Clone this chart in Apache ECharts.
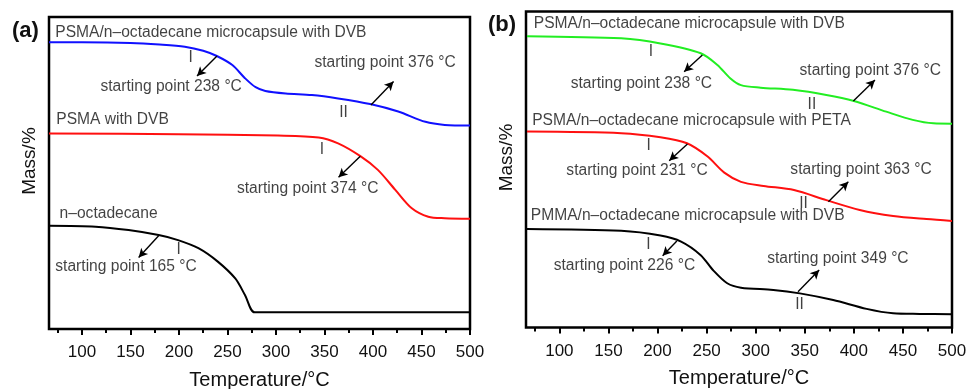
<!DOCTYPE html>
<html>
<head>
<meta charset="utf-8">
<script src="https://cdn.jsdelivr.net/npm/echarts@6/dist/echarts.min.js"></script>
<style>
  html, body { margin: 0; padding: 0; background: #fff; }
  #chart { width: 968px; height: 389px; }
</style>
</head>
<body>
<div id="chart"></div>
<script>
// x axis
const xMin = 66;
const xMax = 500;
const xTickLabels = [100, 150, 200, 250, 300, 350, 400, 450, 500];
const xMinorTicks = [75, 125, 175, 225, 275, 325, 375, 425, 475];

// panel (a) curves: [temperature, relative mass position]
const aMicroDVB = [[66, 91.9], [100, 91.9], [150, 91.7], [180, 91.2], [206, 90.5], [225, 89.2], [239, 87.5],
  [255, 84.6], [268, 80.4], [279, 77.5], [289, 76.3], [310, 75.5], [337, 75.0], [364, 73.9], [397, 72.1],
  [426, 69.7], [454, 66.4], [474, 65.4], [500, 65.2]];
const aPsmaDVB = [[66, 62.7], [199, 62.4], [302, 62.0], [344, 61.4], [364, 59.5], [387, 55.4], [405, 51.0],
  [423, 44.6], [440, 38.7], [457, 36.0], [474, 35.5], [500, 35.3]];
const aOctadecane = [[66, 33.1], [114, 32.8], [148, 31.7], [179, 30.1], [199, 28.5], [220, 25.9], [240, 21.6],
  [258, 16.2], [268, 10.9], [278, 5.35], [300, 5.35], [400, 5.35], [500, 5.35]];

// panel (b) curves
const bMicroDVB = [[67, 92.2], [163, 91.5], [203, 89.9], [244, 86.8], [261, 83.1], [274, 78.9], [285, 76.7],
  [305, 75.9], [338, 75.2], [372, 73.6], [400, 71.7], [433, 68.3], [460, 65.7], [481, 64.6], [500, 64.5]];
const bMicroPETA = [[67, 62.0], [163, 61.5], [203, 60.2], [230, 58.3], [251, 54.1], [268, 49.0], [285, 46.1],
  [308, 44.8], [339, 43.5], [372, 40.3], [406, 37.2], [440, 35.3], [474, 34.3], [500, 33.7]];
const bPmmaDVB = [[67, 31.2], [163, 30.6], [203, 29.1], [224, 27.2], [244, 22.9], [257, 18.0], [271, 14.0],
  [285, 12.6], [318, 11.9], [345, 10.8], [379, 8.7], [413, 5.9], [440, 4.5], [467, 4.3], [500, 4.2]];

// annotations: [temperature, mass, text]
const aNotes = [
  [72.5, 94.9, 'PSMA/n–octadecane microcapsule with DVB'],
  [212, 86.8, 'I'],
  [119, 77.7, 'starting point 238 °C'],
  [339.6, 85.2, 'starting point 376 °C'],
  [369.7, 69.3, 'II'],
  [73.5, 67.0, 'PSMA with DVB'],
  [347.4, 57.4, 'I'],
  [259.8, 45.1, 'starting point 374 °C'],
  [76.9, 37.1, 'n–octadecane'],
  [199.6, 25.3, 'I'],
  [72.5, 20.0, 'starting point 165 °C']
];
const bNotes = [
  [73.9, 96.3, 'PSMA/n–octadecane microcapsule with DVB'],
  [193.3, 87.3, 'I'],
  [111.5, 77.1, 'starting point 238 °C'],
  [357.3, 70.4, 'II'],
  [344.7, 81.3, 'starting point 376 °C'],
  [72.3, 65.4, 'PSMA/n–octadecane microcapsule with PETA'],
  [191, 57.5, 'I'],
  [107.1, 49.5, 'starting point 231 °C'],
  [348.8, 39.3, 'II'],
  [335.3, 49.8, 'starting point 363 °C'],
  [70.9, 35.4, 'PMMA/n–octadecane microcapsule with DVB'],
  [190.6, 26.3, 'I'],
  [94.2, 19.5, 'starting point 226 °C'],
  [311.7, 21.9, 'starting point 349 °C'],
  [344.7, 7.1, 'II']
];

// arrows: [fromT, fromMass, toT, toMass]
const aArrows = [
  [239.2, 87.5, 218.6, 81.1],
  [397.9, 71.8, 421.2, 79.3],
  [386.9, 55.4, 364.5, 48.6],
  [179, 29.9, 158.4, 22.9]
];
const bArrows = [
  [245.7, 86.2, 227.1, 80.9],
  [399.5, 71.7, 421.5, 78.3],
  [230.5, 58.1, 211.9, 52.8],
  [374.1, 39.8, 394.4, 46.1],
  [219.7, 27.4, 205.2, 22.7],
  [343.1, 11.3, 364.7, 18.2]
];

const FONT = '"Liberation Sans", Arial, sans-serif';

function xAxes(gridIndex) {
  return [
    {
      type: 'value', gridIndex: gridIndex, min: xMin, max: xMax,
      name: 'Temperature/°C', nameLocation: 'middle', nameGap: 41,
      nameTextStyle: { fontSize: 20, color: '#111', fontFamily: FONT },
      axisLine: { show: false },
      axisTick: { show: true, inside: false, length: 6, customValues: xTickLabels, lineStyle: { color: '#000', width: 2 } },
      axisLabel: { customValues: xTickLabels, fontSize: 17, color: '#111', fontFamily: FONT, margin: 15 },
      splitLine: { show: false }
    },
    {
      type: 'value', gridIndex: gridIndex, min: xMin, max: xMax, position: 'bottom',
      axisLine: { show: false },
      axisTick: { show: true, inside: false, length: 4, customValues: xMinorTicks, lineStyle: { color: '#000', width: 2 } },
      axisLabel: { show: false },
      splitLine: { show: false }
    }
  ];
}

function yAxis(gridIndex) {
  return {
    type: 'value', gridIndex: gridIndex, min: 0, max: 100,
    name: 'Mass/%', nameLocation: 'middle', nameGap: 10, nameRotate: 90,
    nameTextStyle: { fontSize: 19, color: '#111', fontFamily: FONT, padding: [0, 0, 0, 24] },
    axisLine: { show: false }, axisTick: { show: false }, axisLabel: { show: false },
    splitLine: { show: false }
  };
}

function curve(data, color, axisIdx) {
  return {
    type: 'line', data: data, xAxisIndex: axisIdx, yAxisIndex: axisIdx / 2,
    smooth: 0.3, symbol: 'none', silent: true,
    lineStyle: { color: color, width: 2 }
  };
}

function notes(list, xIdx, yIdx) {
  return {
    type: 'scatter', xAxisIndex: xIdx, yAxisIndex: yIdx, symbolSize: 0, silent: true, z: 5,
    data: list.map(n => ({
      value: [n[0], n[1]],
      label: {
        show: true, formatter: n[2], position: [0, 0],
        align: n[2].length <= 2 ? 'center' : 'left', verticalAlign: 'middle',
        fontSize: 15.6, color: '#111', fontFamily: FONT
      }
    })),
    markLine: {
      silent: true, symbol: ['none', 'arrow'], symbolSize: [7, 9],
      label: { show: false },
      lineStyle: { color: '#000', width: 1.4, type: 'solid' },
      emphasis: { disabled: true },
      data: (xIdx === 0 ? aArrows : bArrows).map(a => [{ coord: [a[0], a[1]] }, { coord: [a[2], a[3]] }])
    }
  };
}

const chart = echarts.init(document.getElementById('chart'), null, { renderer: 'canvas' });

chart.setOption({
  animation: false,
  backgroundColor: '#fff',
  textStyle: { fontFamily: FONT },
  title: [
    { text: '(a)', left: 7, top: 15, textStyle: { fontSize: 22, fontWeight: 'bold', color: '#111', fontFamily: FONT } },
    { text: '(b)', left: 483, top: 9, textStyle: { fontSize: 22, fontWeight: 'bold', color: '#111', fontFamily: FONT } }
  ],
  grid: [
    { left: 49, top: 17, right: 498, bottom: 60, outerBoundsMode: 'none', containLabel: false,
      show: true, borderColor: '#000', borderWidth: 2.5, backgroundColor: 'transparent' },
    { left: 526, top: 11.5, right: 16, bottom: 61.5, outerBoundsMode: 'none', containLabel: false,
      show: true, borderColor: '#000', borderWidth: 2.5, backgroundColor: 'transparent' }
  ],
  xAxis: xAxes(0).concat(xAxes(1)),
  yAxis: [yAxis(0), yAxis(1)],
  series: [
    curve(aMicroDVB, '#1010ff', 0),
    curve(aPsmaDVB, '#ff1010', 0),
    curve(aOctadecane, '#000000', 0),
    curve(bMicroDVB, '#22ee22', 2),
    curve(bMicroPETA, '#ff1010', 2),
    curve(bPmmaDVB, '#000000', 2),
    notes(aNotes, 0, 0),
    notes(bNotes, 2, 1)
  ]
});
</script>
</body>
</html>
